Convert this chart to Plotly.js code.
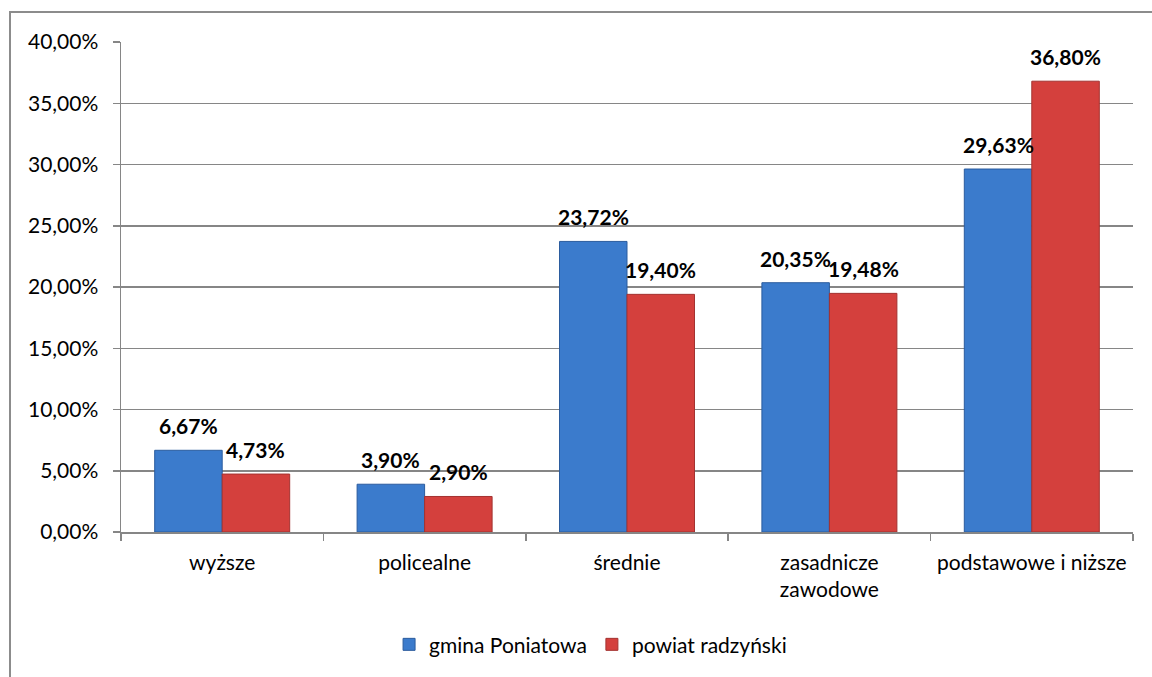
<!DOCTYPE html>
<html>
<head>
<meta charset="utf-8">
<script src="https://cdn.plot.ly/plotly-3.0.1.min.js"></script>
<style>
  html, body { margin: 0; padding: 0; background: #fff; }
  #wrap { position: relative; width: 1152px; height: 677px; overflow: hidden; }
  #frame { position: absolute; left: 9px; top: 11px; width: 1200px; height: 700px;
           border-left: 2px solid #8c8c8c; border-top: 2px solid #8c8c8c; pointer-events: none; }
  #chart { position: absolute; left: 0; top: 0; width: 1152px; height: 677px; }
</style>
</head>
<body>
<div id="wrap">
  <div id="chart"></div>
  <div id="frame"></div>
</div>
<script>
const categories = ['wyższe', 'policealne', 'średnie', 'zasadnicze<br>zawodowe', 'podstawowe i niższe'];
const seriesNames = ['gmina Poniatowa', 'powiat radzyński'];
const gminaValues = [6.67, 3.90, 23.72, 20.35, 29.63];
const powiatValues = [4.73, 2.90, 19.40, 19.48, 36.80];
const yTickValues = [0, 5, 10, 15, 20, 25, 30, 35, 40];

const FONT = 'Lato, "Open Sans", sans-serif';
const fmt = v => v.toFixed(2).replace('.', ',') + '%';

const blue = '#3b7bcc';
const red = '#d4403d';

const traces = [
  {
    type: 'bar', name: seriesNames[0], x: categories, y: gminaValues.map(v => v / 100),
    marker: { color: blue, line: { color: '#2b5c9e', width: 1 } }, hoverinfo: 'skip'
  },
  {
    type: 'bar', name: seriesNames[1], x: categories, y: powiatValues.map(v => v / 100),
    marker: { color: red, line: { color: '#a33230', width: 1 } }, hoverinfo: 'skip'
  }
];

const annotations = [];
const halfBar = 33.7;
categories.forEach((c, i) => {
  annotations.push({ x: c, y: gminaValues[i] / 100, xref: 'x', yref: 'y', text: '<b>' + fmt(gminaValues[i]) + '</b>',
    showarrow: false, xshift: -halfBar, yshift: 10, yanchor: 'bottom', xanchor: 'center',
    font: { family: FONT, size: 21, color: '#000' } });
  annotations.push({ x: c, y: powiatValues[i] / 100, xref: 'x', yref: 'y', text: '<b>' + fmt(powiatValues[i]) + '</b>',
    showarrow: false, xshift: halfBar, yshift: 10, yanchor: 'bottom', xanchor: 'center',
    font: { family: FONT, size: 21, color: '#000' } });
});

const layout = {
  width: 1152, height: 677,
  margin: { l: 121, r: 19, t: 41.5, b: 145 },
  paper_bgcolor: '#fff', plot_bgcolor: '#fff',
  separators: ', ',
  font: { family: FONT, size: 21, color: '#000' },
  barmode: 'group', bargap: 0.333, bargroupgap: 0,
  showlegend: true,
  legend: { orientation: 'h', x: 0.464, xanchor: 'center', y: -0.23, yanchor: 'middle',
            font: { family: FONT, size: 21, color: '#000' }, traceorder: 'normal', itemwidth: 30 },
  xaxis: {
    type: 'category', showline: true, linecolor: '#868686', linewidth: 1.5,
    ticks: 'outside', tickson: 'boundaries', ticklen: 7, tickcolor: '#868686', tickwidth: 1.5,
    showgrid: false, ticklabelstandoff: 11,
    tickfont: { family: FONT, size: 21, color: '#000' }
  },
  yaxis: {
    range: [0, 0.4], tickvals: yTickValues.map(v => v / 100), tickformat: '.2%',
    showline: true, linecolor: '#868686', linewidth: 1.5,
    ticks: 'outside', ticklen: 7, tickcolor: '#868686', tickwidth: 1.5,
    showgrid: true, gridcolor: '#868686', gridwidth: 1.5, zeroline: false,
    ticklabelstandoff: 10,
    tickfont: { family: FONT, size: 21, color: '#000' }
  },
  annotations: annotations
};

Plotly.newPlot('chart', traces, layout, { staticPlot: true, displayModeBar: false });
</script>
</body>
</html>
